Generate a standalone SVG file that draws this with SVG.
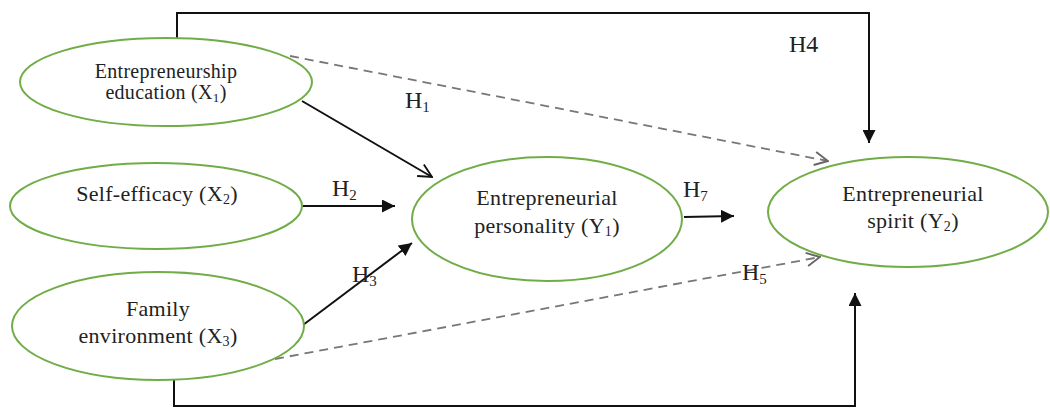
<svg xmlns="http://www.w3.org/2000/svg" width="1050" height="409" viewBox="0 0 1050 409">
<style>
.node{fill:#fff;stroke:#70ad47;stroke-width:2}
.t{font-family:"Liberation Serif","Times New Roman",serif;fill:#222;text-anchor:middle;letter-spacing:0.3px}
.lbl{font-family:"Liberation Serif","Times New Roman",serif;fill:#222;font-size:24px}
.solid{fill:none;stroke:#111;stroke-width:2}
.dash{fill:none;stroke:#777;stroke-width:1.8;stroke-dasharray:9 6}
</style>
<defs>
<marker id="fill" viewBox="0 0 10 10" refX="10" refY="5" markerWidth="13" markerHeight="13" markerUnits="userSpaceOnUse" orient="auto"><path d="M0,0 L10,5 L0,10 z" fill="#111"/></marker>
<marker id="open" viewBox="0 0 12 12" refX="11" refY="6" markerWidth="16" markerHeight="16" markerUnits="userSpaceOnUse" orient="auto"><path d="M1,1 L11,6 L1,11" fill="none" stroke="#111" stroke-width="1.4"/></marker>
<marker id="opengray" viewBox="0 0 12 12" refX="11" refY="6" markerWidth="16" markerHeight="16" markerUnits="userSpaceOnUse" orient="auto"><path d="M1,1 L11,6 L1,11" fill="none" stroke="#666" stroke-width="1.4"/></marker>
</defs>
<g id="connectors">
<path class="solid" d="M177,38 V13 H869 V143" marker-end="url(#fill)"/>
<path class="solid" d="M174,380 V406 H855 V293" marker-end="url(#fill)"/>
<path class="dash" d="M290,56 L828,161" marker-end="url(#opengray)"/>
<path class="dash" d="M275,359 L820,257" marker-end="url(#opengray)"/>
<path class="solid" d="M302,101 L432,177" marker-end="url(#open)"/>
<path class="solid" d="M302,206 L395,206" marker-end="url(#fill)"/>
<path class="solid" d="M303,325 L412,243" marker-end="url(#fill)"/>
<path class="solid" d="M684,217 L734,216" marker-end="url(#fill)"/>
<text class="lbl" x="789" y="52">H4</text>
<text class="lbl" x="405" y="108">H<tspan font-size="15" dy="4">1</tspan></text>
<text class="lbl" x="332" y="196">H<tspan font-size="15" dy="4">2</tspan></text>
<text class="lbl" x="352" y="282">H<tspan font-size="15" dy="4">3</tspan></text>
<text class="lbl" x="742" y="280">H<tspan font-size="15" dy="4">5</tspan></text>
<text class="lbl" x="683" y="197">H<tspan font-size="15" dy="4">7</tspan></text>
</g>
<g id="x1">
<ellipse class="node" cx="166" cy="82" rx="146" ry="44"/>
<text class="t" x="166" y="78" font-size="20">Entrepreneurship</text>
<text class="t" x="166" y="99" font-size="20">education  (X<tspan font-size="13" dy="3">1</tspan><tspan dy="-3">)</tspan></text>
</g>
<g id="x2">
<ellipse class="node" cx="156" cy="206" rx="146" ry="43"/>
<text class="t" x="157" y="201" font-size="22">Self-efficacy (X<tspan font-size="14" dy="3">2</tspan><tspan dy="-3">)</tspan></text>
</g>
<g id="x3">
<ellipse class="node" cx="158" cy="326" rx="146" ry="54"/>
<text class="t" x="158" y="316" font-size="22">Family</text>
<text class="t" x="158" y="343" font-size="22">environment (X<tspan font-size="14" dy="3">3</tspan><tspan dy="-3">)</tspan></text>
</g>
<g id="y1">
<ellipse class="node" cx="547" cy="219" rx="135" ry="62"/>
<text class="t" x="547" y="205" font-size="22">Entrepreneurial</text>
<text class="t" x="547" y="233" font-size="22">personality (Y<tspan font-size="14" dy="3">1</tspan><tspan dy="-3">)</tspan></text>
</g>
<g id="y2">
<ellipse class="node" cx="908" cy="212" rx="140" ry="55"/>
<text class="t" x="913" y="201" font-size="22">Entrepreneurial</text>
<text class="t" x="913" y="228" font-size="22">spirit (Y<tspan font-size="14" dy="3">2</tspan><tspan dy="-3">)</tspan></text>
</g>
</svg>
